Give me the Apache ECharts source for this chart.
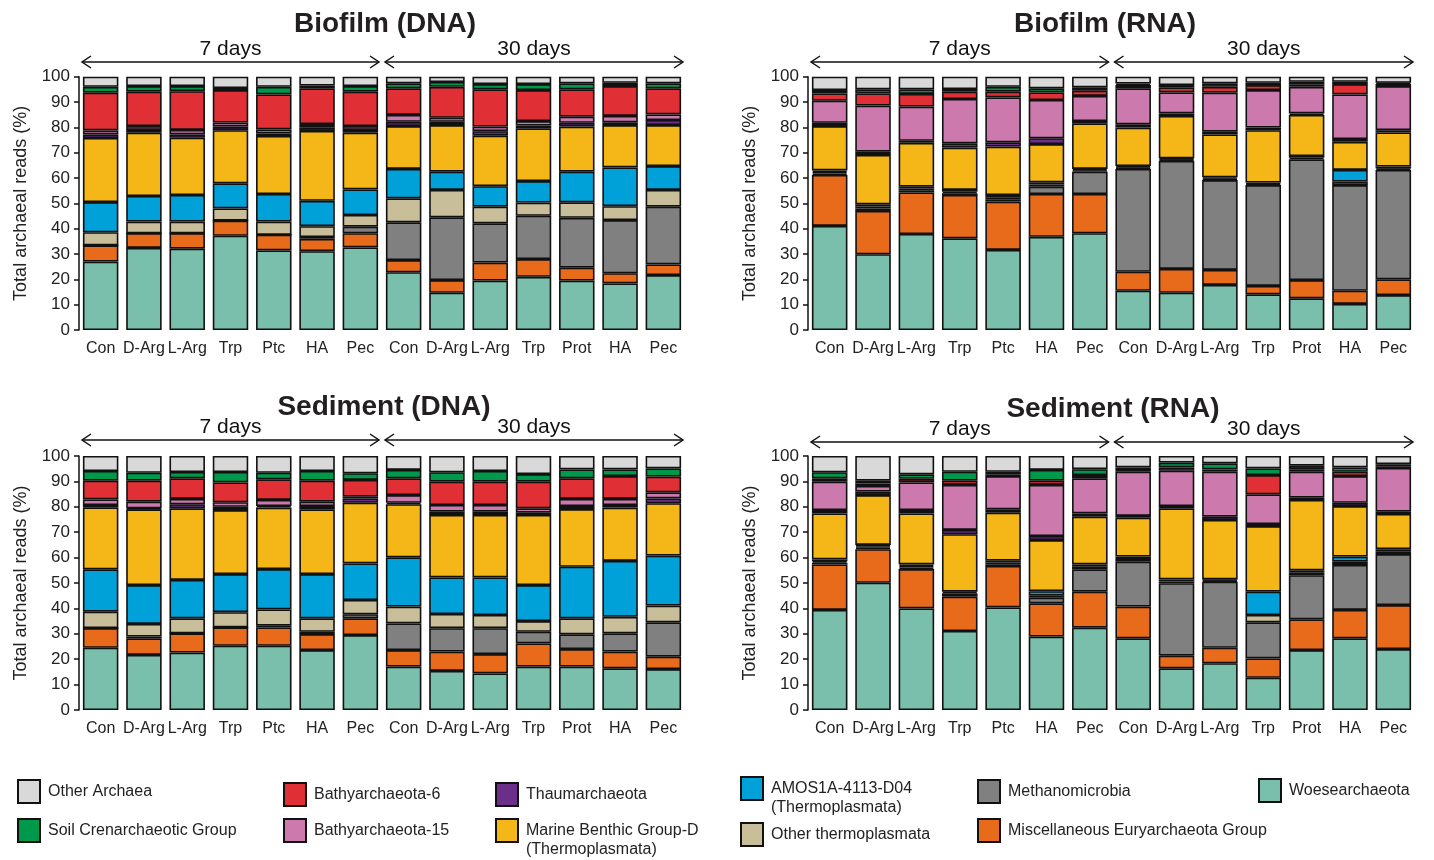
<!DOCTYPE html>
<html><head><meta charset="utf-8">
<script src="https://cdn.jsdelivr.net/npm/echarts@6/dist/echarts.min.js"></script>
<style>html,body{margin:0;padding:0;background:#fff}#c{width:1434px;height:860px}</style>
</head><body><div id="c"></div>
<script>
// ---------- DATA ----------
const samples = ['Con','D-Arg','L-Arg','Trp','Ptc','HA','Pec','Con','D-Arg','L-Arg','Trp','Prot','HA','Pec'];
const panelTitles = ['Biofilm (DNA)','Biofilm (RNA)','Sediment (DNA)','Sediment (RNA)'];
const periodLabels = ['7 days','30 days'];
// stacking order, bottom to top
const taxa = ['Woesearchaeota','Miscellaneous Euryarchaeota Group','Methanomicrobia','Other thermoplasmata',
  'AMOS1A-4113-D04 (Thermoplasmata)','Marine Benthic Group-D (Thermoplasmata)','Thaumarchaeota',
  'Bathyarchaeota-15','Bathyarchaeota-6','Soil Crenarchaeotic Group','Other Archaea'];
const taxaColors = ['#79bfab','#e86b1c','#808080','#c8bf9a','#00a0d8','#f5b617','#6b2f8a','#cc7aad','#e03035','#00984a','#d9d9d9'];

// Cumulative upper boundaries (%), per sample, for the first 10 taxa
// (Woes, MEG, Methanomicrobia, Other thermo, AMOS, MBG-D, Thaum, Bathy-15, Bathy-6, SCG); Other Archaea fills to 100.
const biofilmDNA = [
  [27.0,33.4,33.4,38.6,50.5,75.8,77.2,78.8,93.7,96.0],
  [32.4,38.2,38.2,42.8,52.9,77.9,79.0,80.5,94.1,96.3],
  [32.1,38.2,38.2,42.8,53.3,75.9,77.2,79.0,94.3,96.3],
  [37.2,43.2,43.2,48.0,57.9,78.9,80.3,81.9,94.7,95.5],
  [31.4,37.6,37.6,42.8,53.7,76.6,77.6,79.2,93.0,96.0],
  [31.1,36.0,36.7,41.0,51.0,78.6,80.0,81.3,95.4,96.5],
  [32.6,38.2,40.8,45.4,55.5,77.9,79.0,80.5,94.1,96.3],
  [22.8,27.6,42.5,52.0,63.6,80.5,82.2,84.9,95.4,97.4],
  [14.7,19.7,44.5,55.3,62.5,80.9,82.2,83.8,96.0,97.9],
  [19.5,26.6,42.1,48.7,56.8,76.7,78.5,80.3,95.0,97.1],
  [21.0,28.0,45.1,50.3,58.8,79.6,80.7,82.5,94.7,97.1],
  [19.5,24.6,44.3,50.4,62.5,80.3,81.8,84.2,95.0,97.4],
  [18.4,22.4,43.4,48.9,64.2,80.9,82.0,84.5,96.3,97.6],
  [21.7,25.9,48.7,55.3,64.7,80.9,82.9,85.1,95.4,97.4]
];
const biofilmRNA = [
  [41.1,61.2,61.8,62.4,63.0,80.5,81.8,90.5,93.4,94.7],
  [29.9,47.0,48.0,48.8,49.6,69.1,70.4,88.6,93.4,95.0],
  [37.9,54.3,55.2,55.9,56.6,73.9,74.7,88.2,93.2,95.0],
  [36.2,53.3,54.0,54.6,55.3,72.0,73.7,91.2,94.1,95.1],
  [31.6,50.7,51.6,52.4,53.3,72.4,74.1,91.8,94.1,96.0],
  [36.8,53.7,56.6,57.4,58.3,73.4,75.7,90.8,93.8,95.4],
  [38.2,53.7,62.5,63.0,63.6,81.6,82.5,92.4,94.5,95.8],
  [15.5,23.0,63.6,64.1,64.7,79.9,81.2,95.4,96.7,97.3],
  [14.7,24.1,66.8,67.3,67.8,84.5,85.5,93.8,95.8,96.7],
  [17.8,23.7,59.2,59.7,60.3,77.2,78.3,93.7,96.0,97.4],
  [14.1,17.4,57.2,57.7,58.2,78.9,79.9,94.7,96.7,97.6],
  [12.5,19.7,67.4,68.0,68.7,84.9,85.5,96.0,97.0,98.0],
  [10.3,15.5,57.2,58.6,63.2,74.3,75.4,93.0,97.1,98.0],
  [13.8,20.0,63.2,63.8,64.5,78.0,78.9,96.3,97.1,97.6]
];
const sedimentDNA = [
  [24.5,32.2,32.2,38.7,55.4,79.8,80.7,82.9,90.3,94.1],
  [21.7,28.2,28.9,33.9,49.2,79.0,79.4,82.0,90.3,93.4],
  [22.6,30.2,30.2,36.1,51.2,79.4,81.0,83.1,91.2,93.7],
  [25.3,32.5,32.5,38.5,53.5,78.7,80.0,81.8,89.6,93.7],
  [25.3,32.5,33.2,39.6,55.5,79.7,80.3,82.7,90.8,93.4],
  [23.6,29.9,30.8,36.1,53.5,79.0,80.3,82.0,90.3,94.1],
  [29.5,36.1,37.7,43.3,57.7,81.6,83.3,84.0,90.6,93.2],
  [17.1,23.6,34.1,40.7,60.1,81.0,81.6,84.6,91.2,94.5],
  [15.4,23.0,32.2,37.8,52.2,76.8,78.1,80.7,89.9,93.6],
  [14.4,22.0,32.2,37.4,52.2,76.8,78.1,80.7,89.9,94.1],
  [17.1,26.2,30.8,35.0,49.2,76.8,77.7,79.4,89.9,92.9],
  [17.1,24.0,29.8,36.1,56.4,79.1,80.3,83.1,91.2,94.7],
  [16.4,23.0,30.2,36.7,58.7,79.7,80.7,83.1,92.1,94.7],
  [16.1,21.0,34.5,41.1,60.8,81.4,83.3,85.7,91.9,95.1]
];
const sedimentRNA = [
  [39.4,57.3,58.0,58.6,59.3,77.4,78.7,89.9,91.2,93.6],
  [50.1,63.3,63.9,64.5,65.0,84.6,86.0,88.2,89.2,90.3],
  [40.0,55.5,56.1,56.7,57.3,77.4,78.7,89.6,91.0,92.8],
  [31.1,44.6,45.3,46.0,46.6,69.2,70.9,88.6,90.3,93.8],
  [40.4,56.7,57.4,58.1,58.8,77.7,79.0,92.1,92.8,93.8],
  [28.9,42.0,44.2,45.0,46.8,66.9,68.5,88.6,90.3,94.5],
  [32.4,46.6,55.4,56.4,57.3,76.1,77.4,91.2,92.5,94.8],
  [28.2,40.7,58.4,59.4,60.4,75.7,76.4,93.8,94.5,95.5],
  [16.4,21.4,49.9,50.6,51.4,79.4,80.3,94.2,95.5,97.4],
  [18.4,24.5,50.5,51.0,51.4,74.8,76.1,93.8,94.7,97.1],
  [12.7,20.3,34.5,37.4,46.6,72.4,73.2,84.9,92.5,95.1],
  [23.6,35.7,53.1,54.0,55.0,82.7,83.6,93.8,94.8,96.2],
  [28.2,39.4,57.1,58.4,60.4,80.3,81.6,92.1,93.8,95.5],
  [24.0,41.3,61.4,62.3,63.3,77.2,78.1,95.3,96.0,96.8]
];
const panels = [biofilmDNA, biofilmRNA, sedimentDNA, sedimentRNA];

// ---------- LAYOUT ----------
const FONT = '"Liberation Sans", Arial, Helvetica, sans-serif';
const grids = [
  {left:79, top:76.7, width:606, height:253.3},
  {left:808, top:76.7, width:607, height:253.3},
  {left:79, top:456, width:606, height:254},
  {left:808, top:456, width:607, height:254}
];
const titlePos = [[380,5],[1100,5],[379,388],[1108,390]];
const arrowY = [62,62,440,442];

function shares(rows){
  return taxa.map((t,k)=>rows.map(r=>{
    const top = k < 10 ? r[k] : 100;
    const bot = k === 0 ? 0 : r[k-1];
    return Math.round((top-bot)*100)/100;
  }));
}

const series = [];
const xAxes = [], yAxes = [];
panels.forEach((rows,p)=>{
  xAxes.push({gridIndex:p, type:'category', data:samples,
    axisLine:{show:false}, axisTick:{show:false},
    axisLabel:{interval:0, fontSize:16, color:'#222', fontFamily:FONT, margin:11}});
  yAxes.push({gridIndex:p, type:'value', min:0, max:100, interval:10,
    name:'Total archaeal reads (%)', nameLocation:'middle', nameRotate:90, nameGap:49,
    nameTextStyle:{fontSize:18, color:'#222', fontFamily:FONT},
    axisLine:{show:true, lineStyle:{color:'#111', width:1.5}},
    axisTick:{show:true, length:5, lineStyle:{color:'#111', width:1.5}},
    axisLabel:{fontSize:17, color:'#222', fontFamily:FONT, margin:9},
    splitLine:{show:false}});
  const sh = shares(rows);
  taxa.forEach((t,k)=>{
    series.push({type:'bar', name:t, stack:'s'+p, xAxisIndex:p, yAxisIndex:p,
      data:sh[k], barCategoryGap:'18%',
      itemStyle:{color:taxaColors[k], borderColor:'#111', borderWidth:1.6},
      emphasis:{disabled:true}});
  });
});

// legend (first label line in the legend, second line as text below)
const legendItems = [
  {name:'Other Archaea', left:17, top:779, label:'Other Archaea'},
  {name:'Soil Crenarchaeotic Group', left:17, top:818, label:'Soil Crenarchaeotic Group'},
  {name:'Bathyarchaeota-6', left:283, top:782, label:'Bathyarchaeota-6'},
  {name:'Bathyarchaeota-15', left:283, top:818, label:'Bathyarchaeota-15'},
  {name:'Thaumarchaeota', left:495, top:782, label:'Thaumarchaeota'},
  {name:'Marine Benthic Group-D (Thermoplasmata)', left:495, top:818, label:'Marine Benthic Group-D', line2:'(Thermoplasmata)'},
  {name:'AMOS1A-4113-D04 (Thermoplasmata)', left:740, top:776, label:'AMOS1A-4113-D04', line2:'(Thermoplasmata)'},
  {name:'Other thermoplasmata', left:740, top:822, label:'Other thermoplasmata'},
  {name:'Methanomicrobia', left:977, top:779, label:'Methanomicrobia'},
  {name:'Miscellaneous Euryarchaeota Group', left:977, top:818, label:'Miscellaneous Euryarchaeota Group'},
  {name:'Woesearchaeota', left:1258, top:778, label:'Woesearchaeota'}
];
const legends = legendItems.map(it=>({
  left:it.left, top:it.top, orient:'horizontal', selectedMode:false, padding:0,
  data:[it.name], icon:'rect', itemWidth:22, itemHeight:23, itemGap:0,
  formatter:()=>it.label,
  textStyle:{fontSize:16, color:'#222', fontFamily:FONT, padding:[0,0,0,3]}
}));

// titles
const titles = panelTitles.map((t,p)=>({text:t, left:titlePos[p][0], top:titlePos[p][1], textAlign:'center',
  textStyle:{fontSize:28, fontWeight:'bold', color:'#231f20', fontFamily:FONT}}));

// arrows + period labels
const graphic = [];
legendItems.forEach(it=>{
  if (it.line2) graphic.push({type:'text', silent:true, x:it.left+31, y:it.top+32,
    style:{text:it.line2, fontSize:16, fontFamily:FONT, fill:'#222', align:'left', verticalAlign:'middle'}});
});
function arrow(x1,x2,y){
  const st = {stroke:'#111', lineWidth:1.5, fill:null};
  graphic.push({type:'line', silent:true, shape:{x1:x1,y1:y,x2:x2,y2:y}, style:{stroke:'#111', lineWidth:1.5}});
  graphic.push({type:'polyline', silent:true, shape:{points:[[x1+9,y-6],[x1,y],[x1+9,y+6]]}, style:st});
  graphic.push({type:'polyline', silent:true, shape:{points:[[x2-9,y-6],[x2,y],[x2-9,y+6]]}, style:st});
}
grids.forEach((g,p)=>{
  const mid = g.left + g.width/2;
  const y = arrowY[p];
  const a1 = [g.left+3, mid-3], a2 = [mid+3, g.left+g.width-2];
  arrow(a1[0],a1[1],y); arrow(a2[0],a2[1],y);
  [a1,a2].forEach((a,i)=>{
    graphic.push({type:'text', silent:true, x:(a[0]+a[1])/2, y:y-13,
      style:{text:periodLabels[i], fontSize:21, fontFamily:FONT, fill:'#111', align:'center', verticalAlign:'middle'}});
  });
});

const chart = echarts.init(document.getElementById('c'), null, {renderer:'canvas'});
chart.setOption({
  animation:false,
  backgroundColor:'#fff',
  title:titles,
  legend:legends,
  grid:grids,
  xAxis:xAxes,
  yAxis:yAxes,
  series:series,
  graphic:graphic
});
</script></body></html>
